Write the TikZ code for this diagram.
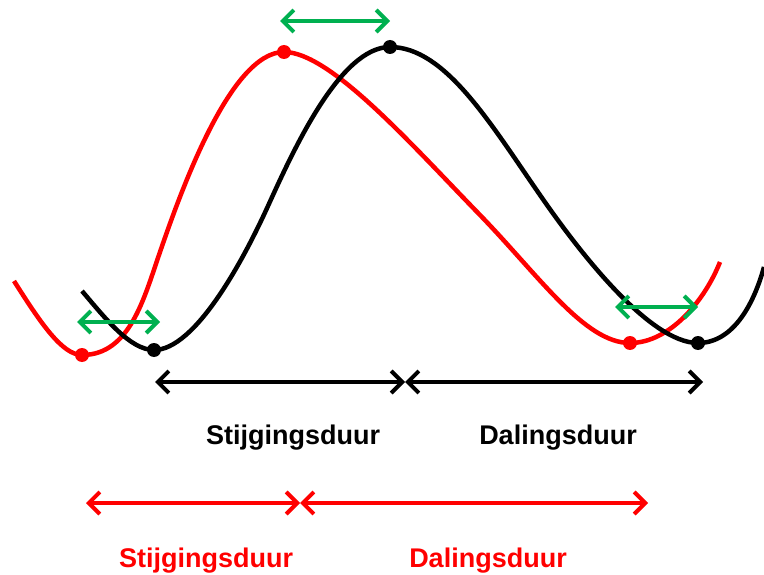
\documentclass[tikz,border=0pt]{standalone}
\usepackage{fontspec}
\setmainfont{Liberation Sans}
\usetikzlibrary{arrows.meta}
\definecolor{pijlgroen}{RGB}{0,176,80}
\tikzset{
  golf/.style={line width=4.5pt, line join=round},
  punt/.style={circle, fill, inner sep=0pt, minimum size=14pt},
  duur/.style={line width=4pt, {Straight Barb[length=11pt,width=22pt]}-{Straight Barb[length=11pt,width=22pt]}},
  verschuif/.style={duur, draw=pijlgroen},
  duurtekst/.style={font=\fontsize{27}{32}\selectfont\bfseries, anchor=base, inner sep=0pt}
}

\begin{document}
\begin{tikzpicture}[x=1pt, y=-1pt]
\useasboundingbox (0,0) rectangle (764,575);

\node[punt, red] (R1) at (82,355) {};
\node[punt, red] (R2) at (284,52) {};
\node[punt, red] (R3) at (630,343) {};
\node[punt, black] (Z1) at (154,350) {};
\node[punt, black] (Z2) at (390,47) {};
\node[punt, black] (Z3) at (698,343) {};

% rode golf
\draw[golf, red] (14,281) .. controls (40,322) and (62,355) .. (R1.center)
  .. controls (130,355) and (144,298) .. (160,252)
  .. controls (180,194) and (230,52) .. (R2.center)
  .. controls (330,52) and (410,143) .. (480,215)
  .. controls (540,277) and (585,343) .. (R3.center)
  .. controls (670,343) and (705,300) .. (720,262);
% zwarte golf
\draw[golf, black] (82,291) .. controls (105,318) and (130,350) .. (Z1.center)
  .. controls (195,350) and (243,261) .. (268,206)
  .. controls (293,151) and (340,47) .. (Z2.center)
  .. controls (445,47) and (490,123) .. (540,195)
  .. controls (580,253) and (650,343) .. (Z3.center)
  .. controls (735,343) and (755,300) .. (764,267);

\coordinate (g1l) at (77,322);
\coordinate (g1r) at (160,322);
\coordinate (g2l) at (280,21);
\coordinate (g2r) at (390,21);
\coordinate (g3l) at (615,307);
\coordinate (g3r) at (698,307);
\draw[verschuif] (g1l) -- (g1r);
\draw[verschuif] (g2l) -- (g2r);
\draw[verschuif] (g3l) -- (g3r);

\coordinate (zs) at (155,382);
\coordinate (zm) at (405,382);
\coordinate (ze) at (703,382);
\draw[duur, black] (zs) -- (zm);
\draw[duur, black] (zm) -- (ze);

\coordinate (rs) at (86,503);
\coordinate (rm) at (300,503);
\coordinate (re) at (648,503);
\draw[duur, red] (rs) -- (rm);
\draw[duur, red] (rm) -- (re);

\node[duurtekst, black] (zstijg) at (293,444) {Stijgingsduur};
\node[duurtekst, black] (zdaal) at (558,444) {Dalingsduur};
\node[duurtekst, red] (rstijg) at (206,567) {Stijgingsduur};
\node[duurtekst, red] (rdaal) at (488,567) {Dalingsduur};
\end{tikzpicture}
\end{document}
